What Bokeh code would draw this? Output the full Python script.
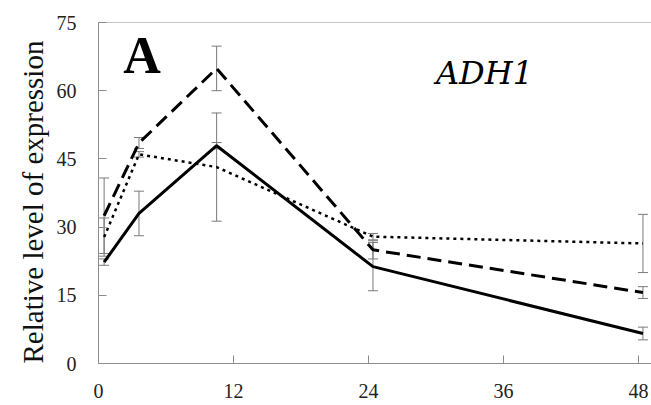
from bokeh.plotting import figure
from bokeh.models import FixedTicker, Whisker, ColumnDataSource, Span, Label, Range1d, Title
from bokeh.embed import file_html
from bokeh.resources import INLINE

# Data
times = [0.5, 3.6, 10.5, 24.4, 48.4]
solid = [22.3, 33.0, 47.9, 21.3, 6.6]
solid_err = [0.7, 4.9, 0.7, 5.3, 1.4]
dashed = [32.5, 48.5, 64.9, 25.0, 15.6]
dashed_err = [8.3, 1.2, 4.9, 2.0, 1.3]
dotted = [27.8, 46.0, 43.2, 27.9, 26.4]
dotted_err = [4.2, 0.6, 11.9, 0.7, 6.4]
x_ticks = [0, 12, 24, 36, 48]
y_ticks = [0, 15, 30, 45, 60, 75]

FONT = "Liberation Serif"
AXIS_GRAY = "#8c8c8c"

p = figure(width=651, height=405, output_backend="svg", toolbar_location=None,
           x_range=Range1d(0, 49.16), y_range=Range1d(0, 75),
           min_border_left=98, min_border_right=0, min_border_top=22, min_border_bottom=42)
p.outline_line_color = None
p.xgrid.grid_line_color = None
p.ygrid.grid_line_color = None
p.background_fill_color = "white"
p.border_fill_color = "white"

for ax in (p.xaxis[0], p.yaxis[0]):
    ax.axis_line_color = AXIS_GRAY
    ax.axis_line_width = 1
    ax.major_tick_line_color = AXIS_GRAY
    ax.major_tick_in = 8
    ax.major_tick_out = 0
    ax.minor_tick_line_color = None
    ax.major_label_text_font = FONT
    ax.major_label_text_font_size = "20px"
    ax.major_label_text_color = "#222222"

p.xaxis.ticker = FixedTicker(ticks=x_ticks)
p.yaxis.ticker = FixedTicker(ticks=y_ticks)
p.xaxis.major_label_standoff = 20
p.yaxis.major_label_standoff = 22

p.add_layout(Span(location=75, dimension="width", line_color=AXIS_GRAY, line_width=1))

# Y axis title as a left-side title
p.add_layout(Title(text="Relative level of expression", align="left", offset=0,
                   standoff=9, text_font=FONT, text_font_style="normal",
                   text_font_size="29px", text_color="#111111"), "left")

# Lines
p.line(times, solid, line_color="black", line_width=3)
p.line(times, dashed, line_color="black", line_width=3, line_dash="14 7")
p.line(times, dotted, line_color="black", line_width=2.5, line_dash="3 4")

# Error bars
for vals, errs in ((solid, solid_err), (dashed, dashed_err), (dotted, dotted_err)):
    src = ColumnDataSource(dict(x=times,
                                lo=[v - e for v, e in zip(vals, errs)],
                                hi=[v + e for v, e in zip(vals, errs)]))
    w = Whisker(source=src, base="x", lower="lo", upper="hi",
                line_color="#7a7a7a", line_width=1)
    w.upper_head.size = 10
    w.lower_head.size = 10
    w.upper_head.line_color = "#7a7a7a"
    w.lower_head.line_color = "#7a7a7a"
    p.add_layout(w)

p.add_layout(Label(x=2.2, y=67.7, text="A", text_font=FONT, text_font_style="bold",
                   text_font_size="52px", text_color="black", text_baseline="alphabetic"))
p.add_layout(Label(x=30.0, y=64.0, text="ADH1", text_font="DejaVu Serif", text_font_style="italic",
                   text_font_size="32px", text_color="black", text_baseline="alphabetic"))

open("out.html", "w").write(file_html(p, INLINE))
